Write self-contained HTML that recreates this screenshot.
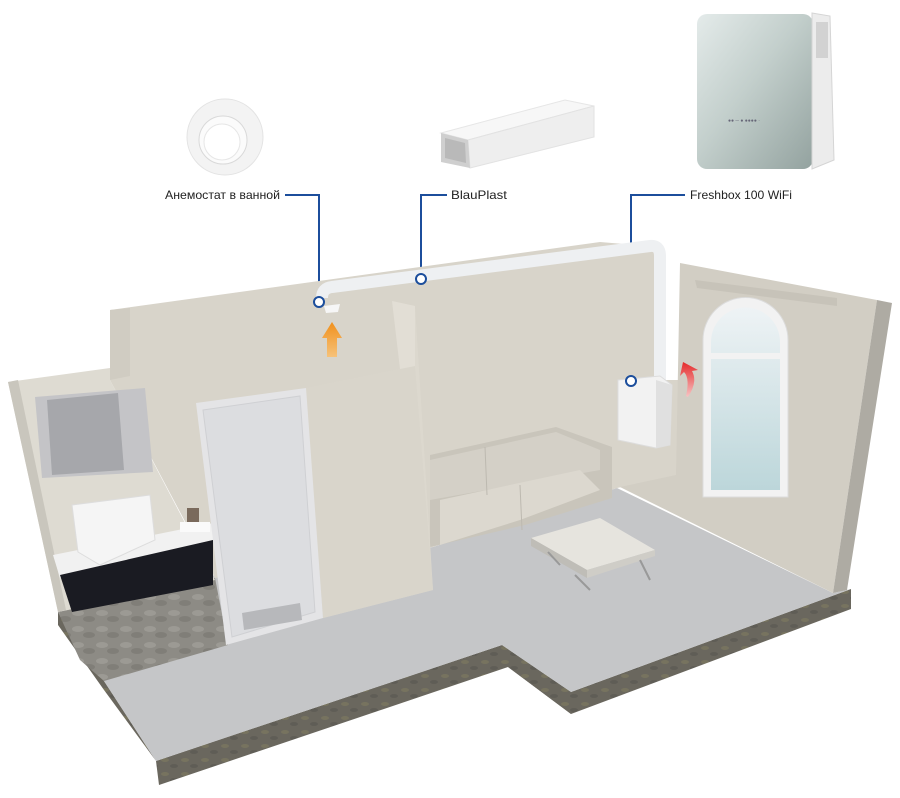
<!DOCTYPE html>
<html><head><meta charset="utf-8"><style>
html,body{margin:0;padding:0;background:#fff;width:900px;height:798px;overflow:hidden}
svg{display:block}
text{font-family:"Liberation Sans",sans-serif;font-size:12px;fill:#222}
</style></head><body>
<svg width="900" height="798" viewBox="0 0 900 798" xmlns="http://www.w3.org/2000/svg">
<defs>
<linearGradient id="fb" x1="0" y1="0" x2="1" y2="1"><stop offset="0" stop-color="#e4ebea"/><stop offset="0.45" stop-color="#c3cfcc"/><stop offset="1" stop-color="#93a29f"/></linearGradient>
<linearGradient id="glass" x1="0" y1="0" x2="0" y2="1"><stop offset="0" stop-color="#eef3f5"/><stop offset="1" stop-color="#bcd6da"/></linearGradient>
<linearGradient id="org" x1="0" y1="1" x2="0" y2="0"><stop offset="0" stop-color="#f6c27a"/><stop offset="1" stop-color="#f0901c"/></linearGradient>
<linearGradient id="red" x1="0" y1="1" x2="0" y2="0"><stop offset="0" stop-color="#f7c4c4"/><stop offset="1" stop-color="#e52a2a"/></linearGradient>
<pattern id="conc" width="20" height="14" patternUnits="userSpaceOnUse"><rect width="20" height="14" fill="#6a675e"/><ellipse cx="5" cy="4" rx="4" ry="2" fill="#77735f"/><ellipse cx="14" cy="10" rx="4" ry="2" fill="#5f5d56"/></pattern>
<pattern id="carpet" width="24" height="16" patternUnits="userSpaceOnUse"><rect width="24" height="16" fill="#8d8b85"/><ellipse cx="6" cy="5" rx="6" ry="3" fill="#9c9a94"/><ellipse cx="17" cy="11" rx="6" ry="3" fill="#807e78"/></pattern>
</defs>

<!-- top products -->
<circle cx="225" cy="137" r="38" fill="#f3f3f3" stroke="#e3e3e3"/>
<circle cx="223" cy="140" r="24" fill="#fbfbfb" stroke="#d9d9d9"/>
<circle cx="222" cy="142" r="18" fill="#fff" stroke="#e6e6e6"/>
<polygon points="441,133 565,100 594,106 468,140" fill="#f7f7f7" stroke="#e6e6e6"/>
<polygon points="468,140 594,106 594,137 470,168" fill="#eeeeee" stroke="#e2e2e2"/>
<polygon points="441,133 468,140 470,168 441,162" fill="#cfcfcf"/>
<polygon points="445,138 465,143 466,163 445,158" fill="#b9b9b9"/>
<rect x="697" y="14" width="116" height="155" rx="10" fill="url(#fb)"/>
<path d="M812 13 L830 16 L834 160 L812 169 Z" fill="#ececec" stroke="#d5d5d5"/>
<rect x="816" y="22" width="12" height="36" fill="#c8c8c8" opacity=".7"/>
<text x="728" y="122" style="font-size:5px;fill:#667">●● ─ ●  ●●●● ·</text>

<!-- labels -->
<text x="165" y="199" textLength="115" lengthAdjust="spacingAndGlyphs">Анемостат в ванной</text>
<text x="451" y="199" textLength="56" lengthAdjust="spacingAndGlyphs">BlauPlast</text>
<text x="690" y="199" textLength="102" lengthAdjust="spacingAndGlyphs">Freshbox 100 WiFi</text>
<g stroke="#1c4e9c" stroke-width="2" fill="none">
<polyline points="285,195 319,195 319,297"/>
<polyline points="447,195 421,195 421,274"/>
<polyline points="685,195 631,195 631,376"/>
</g>

<!-- concrete slab sides -->
<polygon points="58,612 104,681 156,761 502,645 571,692 851,589 851,609 571,714 508,667 159,785 156,761 104,690 58,625" fill="url(#conc)"/>
<polygon points="500,645 508,667 571,714 571,692" fill="url(#conc)"/>

<!-- floor -->
<polygon points="58,612 215,575 433,547 617,488 833,593 851,589 571,692 502,645 156,761 104,681" fill="#c5c6c8"/>
<polygon points="58,612 215,578 228,645 104,681 80,660" fill="url(#carpet)"/>

<!-- left bathroom wall -->
<polygon points="8,382 110,368 110,380 215,580 58,612" fill="#dedbd2"/>
<polygon points="8,382 18,380 66,610 58,612" fill="#c9c6bd"/>
<!-- back wall -->
<polygon points="110,310 600,242 660,247 665,380 680,380 680,475 617,488 433,547 215,578 110,380" fill="#d8d4ca"/>
<polygon points="110,310 130,308 130,376 110,380" fill="#d0ccc2"/>
<!-- mirror -->
<polygon points="35,397 145,388 153,472 42,478" fill="#c4c4c7"/>
<polygon points="47,400 118,393 124,470 52,475" fill="#a6a7ab"/>
<!-- vanity -->
<polygon points="53,555 213,523 213,540 60,578" fill="#f1f1f1"/>
<polygon points="60,575 213,540 213,585 72,612" fill="#1a1b22"/>
<polygon points="72,505 150,495 155,540 100,565 78,552" fill="#f5f5f5" stroke="#ddd"/>
<rect x="187" y="508" width="12" height="16" fill="#7a6a5c"/>
<rect x="180" y="522" width="30" height="10" fill="#fafafa"/>

<!-- right wall -->
<polygon points="680,263 877,300 833,593 620,487 676,475" fill="#d2cec4"/>
<polygon points="877,300 892,303 847,590 833,593" fill="#aeaba3"/>
<polygon points="695,280 837,298 837,306 697,288" fill="#c7c3b9"/>
<path d="M703 497 L703 340 A42 42 0 0 1 788 340 L788 497 Z" fill="#f2f2f2" stroke="#dcdcdc"/>
<path d="M711 490 L711 342 A34 34 0 0 1 780 342 L780 490 Z" fill="url(#glass)"/>
<rect x="711" y="353" width="69" height="6" fill="#f2f2f2"/>

<!-- sofa -->
<polygon points="430,455 556,427 612,447 612,498 525,525 430,547" fill="#c9c5bb"/>
<polygon points="430,460 556,432 600,450 600,470 515,485 430,500" fill="#d4d0c7"/>
<polygon points="440,500 580,470 600,490 520,520 440,545" fill="#dcd8cf"/>
<line x1="485" y1="447" x2="487" y2="495" stroke="#bdb9b0"/>
<line x1="520" y1="485" x2="522" y2="530" stroke="#bdb9b0"/>
<!-- coffee table -->
<polygon points="531,538 600,518 655,550 587,570" fill="#e6e4de"/>
<polygon points="531,538 587,570 587,578 531,546" fill="#bfbdb7"/>
<polygon points="587,570 655,550 655,556 587,578" fill="#cfcdc7"/>
<path d="M548 552 L560 565 M640 560 L650 580 M575 575 L590 590" stroke="#999" stroke-width="2"/>

<!-- duct -->
<path d="M322 298 Q322 288 332 287 L650 246 Q660 245 660 256 L660 382" stroke="#eef0f2" stroke-width="12" fill="none"/>
<path d="M324 306 L340 304 L338 312 L326 313Z" fill="#f6f6f6"/>
<!-- freshbox on wall -->
<polygon points="618,380 660,376 672,385 670,445 656,448 618,440" fill="#f2f2f2" stroke="#ddd"/>
<polygon points="656,380 672,385 670,445 656,448" fill="#e0e0e0"/>

<!-- partition with door -->
<polygon points="392,301 415,306 433,590 323,618 306,388 415,366 410,310" fill="#dcd8ce"/>
<polygon points="306,388 415,366 433,590 323,618" fill="#d9d5cb"/>
<polygon points="392,301 415,306 415,366 400,369" fill="#e2ded5"/>
<polygon points="196,403 306,388 323,618 226,645" fill="#e4e4e6"/>
<polygon points="203,410 300,396 315,612 232,637" fill="#dcdde0" stroke="#cfd0d3"/>
<polygon points="242,613 300,603 302,620 244,630" fill="#b7b8bb"/>

<!-- arrows -->
<polygon points="327,357 327,338 322,338 332,322 342,338 337,338 337,357" fill="url(#org)"/>
<path d="M686 396 Q690 378 684 372 L680 376 L683 362 L698 370 L692 371 Q698 382 688 397 Z" fill="url(#red)"/>

<circle cx="319" cy="302" r="5" fill="#fff" stroke="#1c4e9c" stroke-width="2"/>
<circle cx="421" cy="279" r="5" fill="#fff" stroke="#1c4e9c" stroke-width="2"/>
<circle cx="631" cy="381" r="5" fill="#fff" stroke="#1c4e9c" stroke-width="2"/>
</svg>
</body></html>
